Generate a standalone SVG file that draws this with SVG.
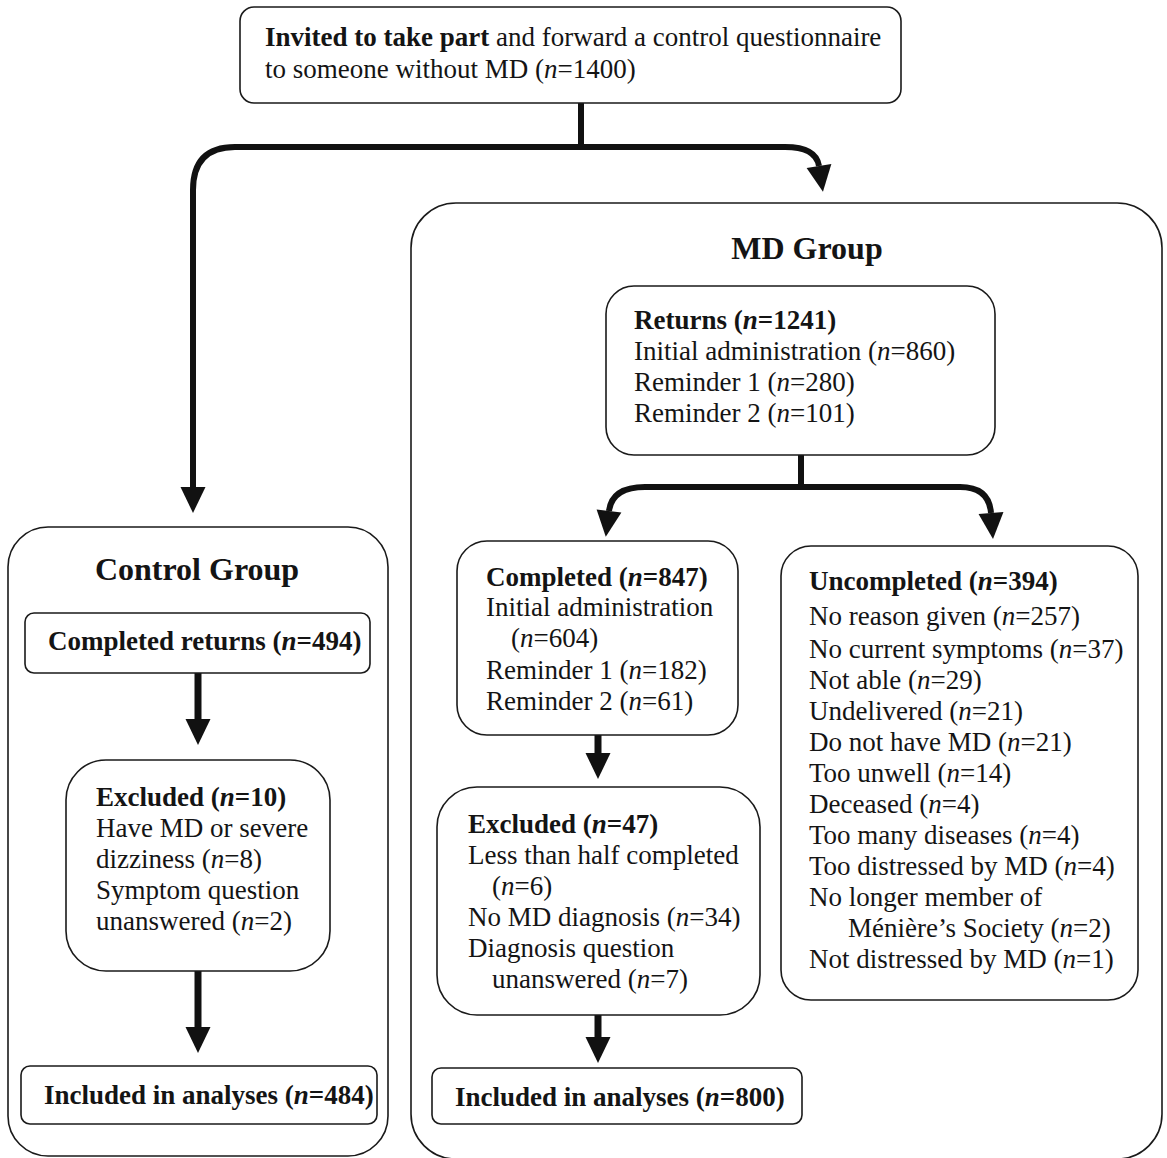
<svg xmlns="http://www.w3.org/2000/svg" width="1167" height="1158" viewBox="0 0 1167 1158">
<defs>
<style>
text{font-family:"Liberation Serif","Times New Roman",serif;font-size:27px;fill:#141414}
.b{font-weight:bold}
.i{font-style:italic}
.t{font-weight:bold;font-size:32px}
.box{fill:#fff;stroke:#1a1a1a;stroke-width:1.6}
.grp{fill:none;stroke:#1a1a1a;stroke-width:1.6}
.c{fill:none;stroke:#111;stroke-width:6;stroke-linecap:butt}
</style>
<marker id="ah" markerUnits="userSpaceOnUse" markerWidth="28" markerHeight="26" refX="0" refY="12.5" orient="auto" overflow="visible">
<path d="M0,0 L26,12.5 L0,25 Z" fill="#111"/>
</marker>
</defs>
<rect width="1167" height="1158" fill="#fff"/>

<g id="control-group">
<rect class="grp" x="8" y="527" width="380" height="629" rx="40"/>
<text class="t" x="197" y="580" text-anchor="middle">Control Group</text>
</g>
<g id="md-group">
<rect class="grp" x="411" y="203" width="751" height="956" rx="45"/>
<text class="t" x="807" y="259" text-anchor="middle">MD Group</text>
</g>

<g id="connectors">
<path class="c" d="M581,103 V147"/>
<path class="c" d="M584,147 H235 Q193,147 193,190 V487" marker-end="url(#ah)"/>
<path class="c" d="M578,147 H785 C806,147 817,153 819,166" marker-end="url(#ah)"/>
<path class="c" d="M801,455 V487"/>
<path class="c" d="M804,487 H645 Q612,487 609,511" marker-end="url(#ah)"/>
<path class="c" d="M798,487 H960 Q989,487 991,513" marker-end="url(#ah)"/>
<path class="c" d="M198,673 V719" marker-end="url(#ah)" style="stroke-width:7"/>
<path class="c" d="M198,971 V1027" marker-end="url(#ah)" style="stroke-width:7"/>
<path class="c" d="M598,735 V753" marker-end="url(#ah)" style="stroke-width:7"/>
<path class="c" d="M598,1015 V1037" marker-end="url(#ah)" style="stroke-width:7"/>
</g>

<g id="invited">
<rect class="box" x="240" y="7" width="661" height="96" rx="14"/>
<text x="265" y="46"><tspan class="b">Invited to take part</tspan> and forward a control questionnaire</text>
<text x="265" y="78">to someone without MD (<tspan class="i">n</tspan>=1400)</text>
</g>

<g id="returns">
<rect class="box" x="606" y="286" width="389" height="169" rx="28"/>
<text x="634" y="329" class="b">Returns (<tspan class="i">n</tspan>=1241)</text>
<text x="634" y="360">Initial administration (<tspan class="i">n</tspan>=860)</text>
<text x="634" y="391">Reminder 1 (<tspan class="i">n</tspan>=280)</text>
<text x="634" y="422">Reminder 2 (<tspan class="i">n</tspan>=101)</text>
</g>

<g id="control-completed">
<rect class="box" x="25" y="613" width="345" height="60" rx="9"/>
<text x="48" y="650" class="b">Completed returns (<tspan class="i">n</tspan>=494)</text>
</g>

<g id="control-excluded">
<rect class="box" x="66" y="760" width="264" height="211" rx="40"/>
<text x="96" y="806" class="b">Excluded (<tspan class="i">n</tspan>=10)</text>
<text x="96" y="837">Have MD or severe</text>
<text x="96" y="868">dizziness (<tspan class="i">n</tspan>=8)</text>
<text x="96" y="899">Symptom question</text>
<text x="96" y="930">unanswered (<tspan class="i">n</tspan>=2)</text>
</g>

<g id="control-included">
<rect class="box" x="21" y="1066" width="356" height="58" rx="9"/>
<text x="44" y="1104" class="b">Included in analyses (<tspan class="i">n</tspan>=484)</text>
</g>

<g id="md-completed">
<rect class="box" x="457" y="541" width="281" height="194" rx="30"/>
<text x="486" y="586" class="b">Completed (<tspan class="i">n</tspan>=847)</text>
<text x="486" y="616">Initial administration</text>
<text x="511" y="647">(<tspan class="i">n</tspan>=604)</text>
<text x="486" y="679">Reminder 1 (<tspan class="i">n</tspan>=182)</text>
<text x="486" y="710">Reminder 2 (<tspan class="i">n</tspan>=61)</text>
</g>

<g id="md-excluded">
<rect class="box" x="437" y="787" width="323" height="228" rx="40"/>
<text x="468" y="833" class="b">Excluded (<tspan class="i">n</tspan>=47)</text>
<text x="468" y="864">Less than half completed</text>
<text x="492" y="895">(<tspan class="i">n</tspan>=6)</text>
<text x="468" y="926">No MD diagnosis (<tspan class="i">n</tspan>=34)</text>
<text x="468" y="957">Diagnosis question</text>
<text x="492" y="988">unanswered (<tspan class="i">n</tspan>=7)</text>
</g>

<g id="md-included">
<rect class="box" x="432" y="1068" width="370" height="56" rx="9"/>
<text x="455" y="1106" class="b">Included in analyses (<tspan class="i">n</tspan>=800)</text>
</g>

<g id="uncompleted">
<rect class="box" x="781" y="546" width="357" height="454" rx="30"/>
<text x="809" y="590" class="b">Uncompleted (<tspan class="i">n</tspan>=394)</text>
<text x="809" y="625">No reason given (<tspan class="i">n</tspan>=257)</text>
<text x="809" y="658">No current symptoms (<tspan class="i">n</tspan>=37)</text>
<text x="809" y="689">Not able (<tspan class="i">n</tspan>=29)</text>
<text x="809" y="720">Undelivered (<tspan class="i">n</tspan>=21)</text>
<text x="809" y="751">Do not have MD (<tspan class="i">n</tspan>=21)</text>
<text x="809" y="782">Too unwell (<tspan class="i">n</tspan>=14)</text>
<text x="809" y="813">Deceased (<tspan class="i">n</tspan>=4)</text>
<text x="809" y="844">Too many diseases (<tspan class="i">n</tspan>=4)</text>
<text x="809" y="875">Too distressed by MD (<tspan class="i">n</tspan>=4)</text>
<text x="809" y="906">No longer member of</text>
<text x="848" y="937">Ménière’s Society (<tspan class="i">n</tspan>=2)</text>
<text x="809" y="968">Not distressed by MD (<tspan class="i">n</tspan>=1)</text>
</g>
</svg>
